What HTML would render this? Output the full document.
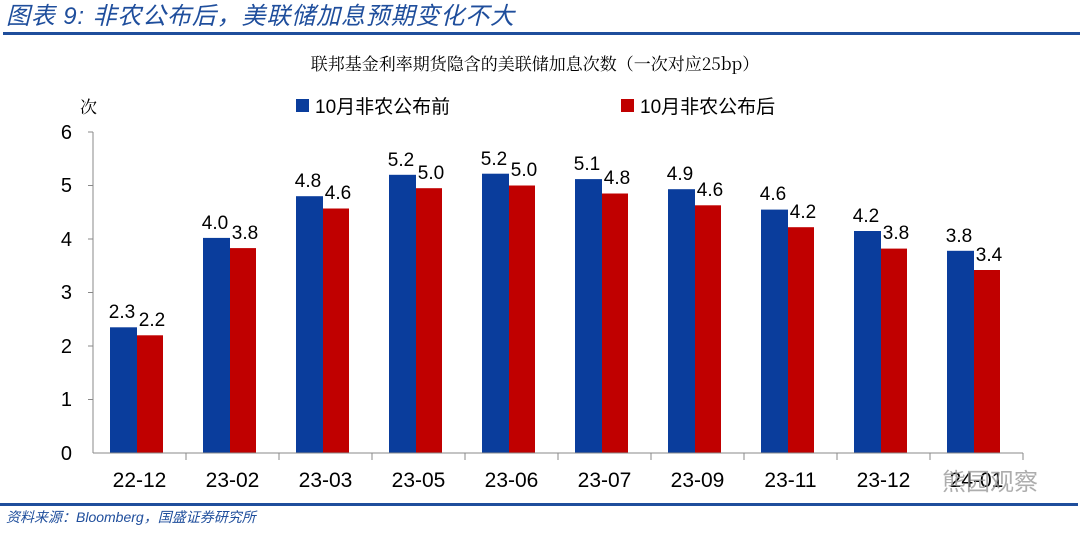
<!DOCTYPE html>
<html><head><meta charset="utf-8"><style>
body{margin:0;background:#fff;}
svg text{font-family:"Liberation Sans","Noto Sans CJK SC",sans-serif;}
</style></head><body>
<svg width="1080" height="528" viewBox="0 0 1080 528" xmlns="http://www.w3.org/2000/svg">
<rect width="1080" height="528" fill="#fff"/>
<text x="6" y="24" font-size="24" font-style="italic" fill="#1f4e9c" textLength="508">图表 9:  非农公布后，美联储加息预期变化不大</text>
<rect x="3" y="32" width="1077" height="3" fill="#1f4e9c"/>
<text x="535" y="70" font-size="17" text-anchor="middle" fill="#000" style="font-family:'Noto Serif CJK SC','Liberation Serif',serif">联邦基金利率期货隐含的美联储加息次数（一次对应25bp）</text>
<text x="80" y="113" font-size="17" style="font-family:'Noto Serif CJK SC',serif">次</text>
<rect x="296" y="99" width="13" height="13" fill="#0a3d9c"/>
<text x="315" y="113" font-size="19">10月非农公布前</text>
<rect x="621" y="99" width="13" height="13" fill="#c00000"/>
<text x="640" y="113" font-size="19">10月非农公布后</text>
<g font-size="20" text-anchor="end" fill="#000">
<text x="72" y="139">6</text><text x="72" y="192">5</text><text x="72" y="246">4</text><text x="72" y="299">3</text><text x="72" y="353">2</text><text x="72" y="406">1</text><text x="72" y="460">0</text>
</g>
<g fill="#0a3d9c">
<rect x="110" y="327.3" width="27" height="125.7"/>
<rect x="203" y="237.9" width="27" height="215.1"/>
<rect x="296" y="196.2" width="27" height="256.8"/>
<rect x="389" y="174.8" width="27" height="278.2"/>
<rect x="482" y="173.7" width="27" height="279.3"/>
<rect x="575" y="179.1" width="27" height="273.9"/>
<rect x="668" y="189.2" width="27" height="263.8"/>
<rect x="761" y="209.6" width="27" height="243.4"/>
<rect x="854" y="231.0" width="27" height="222.0"/>
<rect x="947" y="250.8" width="27" height="202.2"/>
</g>
<g fill="#c00000">
<rect x="137" y="335.3" width="26" height="117.7"/>
<rect x="230" y="248.1" width="26" height="204.9"/>
<rect x="323" y="208.5" width="26" height="244.5"/>
<rect x="416" y="188.2" width="26" height="264.8"/>
<rect x="509" y="185.5" width="26" height="267.5"/>
<rect x="602" y="193.5" width="26" height="259.5"/>
<rect x="695" y="205.3" width="26" height="247.7"/>
<rect x="788" y="227.2" width="26" height="225.8"/>
<rect x="881" y="248.6" width="26" height="204.4"/>
<rect x="974" y="270.0" width="26" height="183.0"/>
</g>
<g font-size="19" text-anchor="middle" fill="#000">
<text x="122" y="318">2.3</text><text x="152" y="326">2.2</text>
<text x="215" y="229">4.0</text><text x="245" y="239">3.8</text>
<text x="308" y="187">4.8</text><text x="338" y="199">4.6</text>
<text x="401" y="166">5.2</text><text x="431" y="179">5.0</text>
<text x="494" y="165">5.2</text><text x="524" y="176">5.0</text>
<text x="587" y="170">5.1</text><text x="617" y="184">4.8</text>
<text x="680" y="180">4.9</text><text x="710" y="196">4.6</text>
<text x="773" y="200">4.6</text><text x="803" y="218">4.2</text>
<text x="866" y="222">4.2</text><text x="896" y="239">3.8</text>
<text x="959" y="242">3.8</text><text x="989" y="261">3.4</text>
</g>
<g font-size="21" text-anchor="middle" fill="#000">
<text x="139.5" y="487">22-12</text><text x="232.5" y="487">23-02</text><text x="325.5" y="487">23-03</text><text x="418.5" y="487">23-05</text><text x="511.5" y="487">23-06</text><text x="604.5" y="487">23-07</text><text x="697.5" y="487">23-09</text><text x="790.5" y="487">23-11</text><text x="883.5" y="487">23-12</text><text x="976.5" y="487">24-01</text>
</g>
<g stroke="#888" stroke-width="1">
<line x1="93" y1="132" x2="93" y2="453"/>
<line x1="88" y1="132" x2="93" y2="132"/><line x1="88" y1="185.5" x2="93" y2="185.5"/><line x1="88" y1="239" x2="93" y2="239"/><line x1="88" y1="292.5" x2="93" y2="292.5"/><line x1="88" y1="346" x2="93" y2="346"/><line x1="88" y1="399.5" x2="93" y2="399.5"/>
<line x1="93" y1="453" x2="1023" y2="453"/>
<line x1="186" y1="453" x2="186" y2="460"/><line x1="279" y1="453" x2="279" y2="460"/><line x1="372" y1="453" x2="372" y2="460"/><line x1="465" y1="453" x2="465" y2="460"/><line x1="558" y1="453" x2="558" y2="460"/><line x1="651" y1="453" x2="651" y2="460"/><line x1="744" y1="453" x2="744" y2="460"/><line x1="837" y1="453" x2="837" y2="460"/><line x1="930" y1="453" x2="930" y2="460"/><line x1="1023" y1="453" x2="1023" y2="460"/>
</g>
<text x="942" y="490" font-size="24" fill="#999" fill-opacity="0.8">熊园观察</text>
<rect x="0" y="503" width="1078" height="3" fill="#1f4e9c"/>
<text x="6" y="522" font-size="14" font-style="italic" fill="#1f4e9c">资料来源：Bloomberg，国盛证券研究所</text>
</svg>
</body></html>
